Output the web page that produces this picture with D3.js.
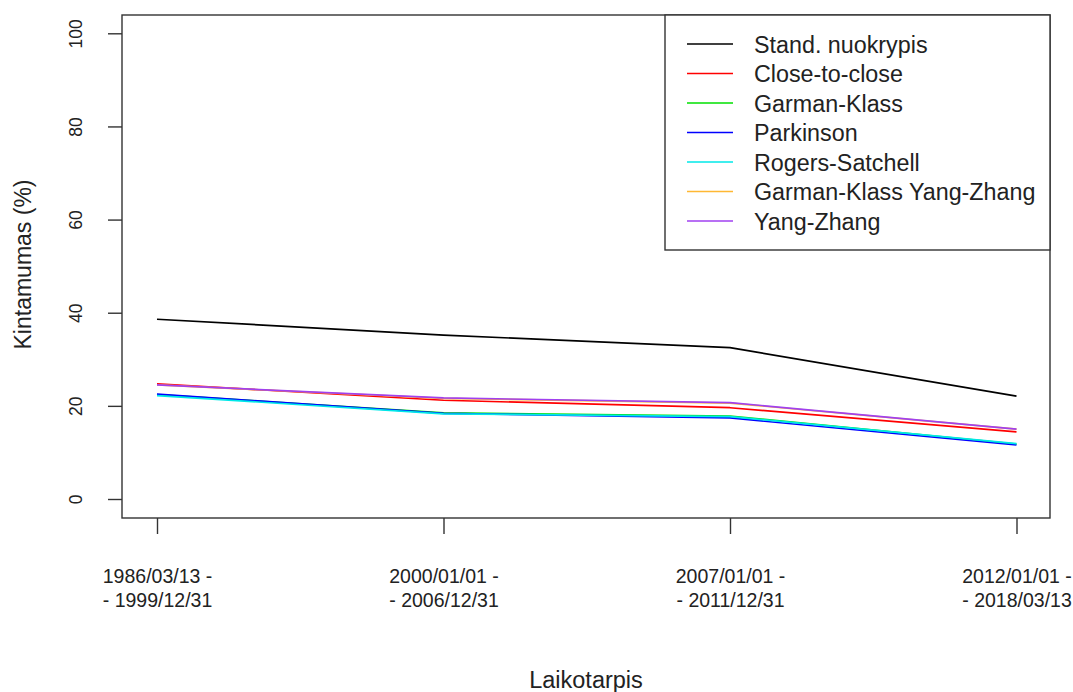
<!DOCTYPE html>
<html>
<head>
<meta charset="utf-8">
<script src="https://cdn.jsdelivr.net/npm/d3@7"></script>
<style>
  body { margin: 0; background: #fff; }
  svg text { font-family: "Liberation Sans", Arial, sans-serif; fill: #222; }
</style>
</head>
<body>
<svg id="chart" width="1073" height="692"></svg>
<script>
// periods on the x axis (two lines each)
var periods = ["p1", "p2", "p3", "p4"];
var periodLines = [
  ["1986/03/13 -", "- 1999/12/31"],
  ["2000/01/01 -", "- 2006/12/31"],
  ["2007/01/01 -", "- 2011/12/31"],
  ["2012/01/01 -", "- 2018/03/13"]
];
var yTicks = [0, 20, 40, 60, 80, 100];

var seriesNames = ["Stand. nuokrypis", "Close-to-close", "Garman-Klass", "Parkinson",
  "Rogers-Satchell", "Garman-Klass Yang-Zhang", "Yang-Zhang"];
var seriesColors = ["#000000", "#ff0000", "#00e000", "#0000ff", "#00e8e8", "#ffb833", "#a040f0"];

// values in %
var standNuokrypis = [38.6, 35.2, 32.5, 22.1];
var closeToClose   = [24.7, 21.2, 19.6, 14.4];
var garmanKlass    = [22.4, 18.5, 17.8, 11.8];
var parkinson      = [22.5, 18.4, 17.4, 11.6];
var rogersSatchell = [22.2, 18.3, 17.7, 11.9];
var gkYangZhang    = [24.5, 21.6, 20.6, 15.0];
var yangZhang      = [24.5, 21.7, 20.7, 15.0];

var allSeries = [standNuokrypis, closeToClose, garmanKlass, parkinson,
  rogersSatchell, gkYangZhang, yangZhang];

var dim = {
  left: 122, right: 1050, top: 15, bottom: 518
};

var svg = d3.select("#chart");

var x = d3.scalePoint()
  .domain(periods)
  .range([157, 1016.5]);

var y = d3.scaleLinear()
  .domain([0, 100])
  .range([499, 33.3]);

// plot frame
svg.append("rect")
  .attr("x", dim.left)
  .attr("y", dim.top)
  .attr("width", dim.right - dim.left)
  .attr("height", dim.bottom - dim.top)
  .attr("fill", "none")
  .attr("stroke", "#333")
  .attr("stroke-width", 1.4);

// y axis
var yAxis = d3.axisLeft(y)
  .tickValues(yTicks)
  .tickSize(14)
  .tickFormat(d3.format("d"));

var gy = svg.append("g")
  .attr("transform", "translate(" + dim.left + ",0)")
  .call(yAxis);
gy.select(".domain").remove();
gy.selectAll(".tick line").attr("stroke", "#333").attr("stroke-width", 1.4);
gy.selectAll(".tick text").remove();

gy.selectAll(".tick").append("text")
  .attr("transform", "translate(-40,0) rotate(-90)")
  .attr("text-anchor", "middle")
  .style("font-size", "17.5px")
  .attr("fill", "#222")
  .text(function(d) { return d; });

// x axis
var xAxis = d3.axisBottom(x)
  .tickSize(16)
  .tickFormat("");

var gx = svg.append("g")
  .attr("transform", "translate(0," + dim.bottom + ")")
  .call(xAxis);
gx.select(".domain").remove();
gx.selectAll(".tick line").attr("stroke", "#333").attr("stroke-width", 1.4);
gx.selectAll(".tick text").remove();

gx.selectAll(".tick").each(function(d, i) {
  var t = d3.select(this).append("text")
    .attr("text-anchor", "middle")
    .style("font-size", "19.5px")
    .attr("fill", "#222");
  t.append("tspan").attr("x", 0).attr("y", 65).text(periodLines[i][0]);
  t.append("tspan").attr("x", 0).attr("y", 89).text(periodLines[i][1]);
});

// axis titles
svg.append("text")
  .attr("x", (dim.left + dim.right) / 2)
  .attr("y", 688)
  .attr("text-anchor", "middle")
  .style("font-size", "23.5px")
  .text("Laikotarpis");

svg.append("text")
  .attr("transform", "translate(31," + ((dim.top + dim.bottom) / 2 - 2) + ") rotate(-90)")
  .attr("text-anchor", "middle")
  .style("font-size", "23px")
  .text("Kintamumas (%)");

// lines
var line = d3.line()
  .x(function(d, i) { return x(periods[i]); })
  .y(function(d) { return y(d); });

svg.append("g").selectAll("path")
  .data(allSeries)
  .enter().append("path")
  .attr("d", line)
  .attr("fill", "none")
  .attr("stroke", function(d, i) { return seriesColors[i]; })
  .attr("stroke-width", 1.7)
  .attr("stroke-linejoin", "round");

// legend
var legend = {
  x: 665, y: 15, width: 385, height: 235,
  rowTop: 44, rowStep: 29.5, lineX1: 687, lineX2: 733, textX: 754
};

svg.append("rect")
  .attr("x", legend.x)
  .attr("y", legend.y)
  .attr("width", legend.width)
  .attr("height", legend.height)
  .attr("fill", "#fff")
  .attr("stroke", "#333")
  .attr("stroke-width", 1.4);

var rows = svg.append("g").selectAll("g")
  .data(seriesNames)
  .enter().append("g")
  .attr("transform", function(d, i) {
    return "translate(0," + (legend.rowTop + i * legend.rowStep) + ")";
  });

rows.append("line")
  .attr("x1", legend.lineX1)
  .attr("x2", legend.lineX2)
  .attr("stroke", function(d, i) { return seriesColors[i]; })
  .attr("stroke-width", 1.7);

rows.append("text")
  .attr("x", legend.textX)
  .attr("y", 8.5)
  .style("font-size", "23.3px")
  .text(function(d) { return d; });
</script>
</body>
</html>
